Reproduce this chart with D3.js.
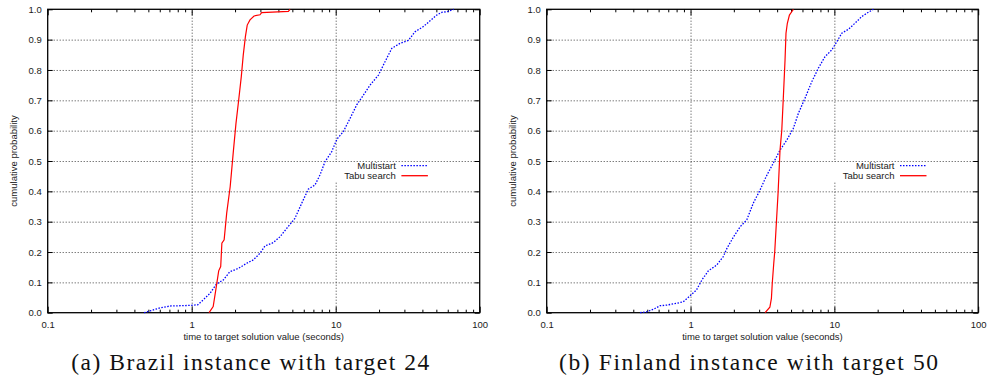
<!DOCTYPE html>
<html>
<head>
<meta charset="utf-8">
<script src="https://cdn.jsdelivr.net/npm/d3@7/dist/d3.min.js"></script>
<style>
  html, body { margin: 0; padding: 0; background: #fff; }
  svg { display: block; }
  .tick text { font-family: "Liberation Sans", Arial, sans-serif; font-size: 9.5px; fill: #1a1a1a; }
</style>
</head>
<body>
<svg id="chart" width="988" height="376"></svg>
<script>
// Time-to-target runs: [time in seconds, cumulative probability]
const brazilMultistart = [
  [0.467,0],[0.603,0.016],[0.707,0.022],[0.973,0.024],[1.1,0.026],[1.2,0.042],[1.34,0.064],
  [1.49,0.095],[1.66,0.108],[1.84,0.135],[2.11,0.146],[2.41,0.163],[2.68,0.174],[2.98,0.196],
  [3.23,0.22],[3.69,0.231],[4.1,0.25],[4.57,0.278],[5.21,0.311],[5.81,0.361],[6.45,0.407],
  [7.18,0.421],[7.78,0.454],[8.43,0.498],[9.38,0.531],[10.2,0.572],[11.3,0.597],[12.6,0.641],
  [14.0,0.685],[15.6,0.718],[17.3,0.75],[19.8,0.783],[22.0,0.827],[24.5,0.871],[28.0,0.888],
  [31.9,0.897],[35.6,0.926],[40.6,0.943],[45.2,0.962],[50.3,0.981],[54.5,0.99],[60.5,0.993],[66,1.0]
];
const brazilTabu = [
  [1.32,0],[1.41,0.02],[1.47,0.075],[1.54,0.138],[1.59,0.152],[1.62,0.229],[1.68,0.24],
  [1.75,0.328],[1.85,0.415],[1.95,0.536],[2.03,0.624],[2.12,0.701],[2.21,0.778],[2.28,0.849],
  [2.36,0.91],[2.43,0.948],[2.54,0.965],[2.71,0.978],[2.98,0.982],[3.06,0.989],[4.69,0.993],[4.82,1.0]
];
const finlandMultistart = [
  [0.446,0],[0.496,0.003],[0.551,0.011],[0.614,0.023],[0.683,0.025],[0.8,0.031],[0.89,0.036],
  [0.99,0.055],[1.1,0.075],[1.2,0.108],[1.33,0.138],[1.52,0.157],[1.69,0.185],[1.79,0.212],
  [1.99,0.25],[2.21,0.283],[2.46,0.306],[2.73,0.361],[3.04,0.404],[3.35,0.448],[3.77,0.494],
  [4.19,0.536],[4.67,0.569],[5.19,0.608],[5.62,0.657],[6.25,0.707],[6.96,0.761],[7.74,0.806],
  [8.61,0.844],[9.59,0.866],[10.4,0.893],[11.25,0.921],[12.5,0.934],[13.9,0.954],[15.5,0.976],
  [16.8,0.987],[18.7,1.0]
];
const finlandTabu = [
  [3.30,0],[3.56,0.018],[3.65,0.047],[3.70,0.097],[3.79,0.163],[3.85,0.201],[3.95,0.295],
  [4.06,0.394],[4.19,0.536],[4.31,0.602],[4.42,0.712],[4.54,0.833],[4.61,0.921],[4.71,0.954],
  [4.87,0.981],[5.05,0.992],[5.19,1.0]
];

const xTicks = [0.1, 1, 10, 100];
const xMinorTicks = [0.2,0.3,0.4,0.5,0.6,0.7,0.8,0.9,2,3,4,5,6,7,8,9,20,30,40,50,60,70,80,90];
const yTicks = [0,0.1,0.2,0.3,0.4,0.5,0.6,0.7,0.8,0.9,1.0];
const seriesNames = ["Multistart", "Tabu search"];
const captions = ["(a) Brazil instance with target 24", "(b) Finland instance with target 50"];

const svg = d3.select("#chart");
const FONT = '"Liberation Sans", Arial, sans-serif';
const plotTop = 9.3, plotBottom = 312.7;

function panel(left, right, ms, ts, caption, capCenter, capWidth) {
  const x = d3.scaleLog().domain([0.1, 100]).range([left, right]);
  const y = d3.scaleLinear().domain([0, 1]).range([plotBottom, plotTop]);
  const g = svg.append("g");
  const h = plotBottom - plotTop, w = right - left;

  // dotted grid at major ticks
  const gridX = g.append("g").attr("transform", `translate(0,${plotBottom})`)
    .call(d3.axisBottom(x).tickValues([1, 10]).tickSize(-h).tickFormat(""));
  const gridY = g.append("g").attr("transform", `translate(${left},0)`)
    .call(d3.axisLeft(y).tickValues(yTicks.slice(1, 10)).tickSize(-w).tickFormat(""));
  [gridX, gridY].forEach(a => {
    a.select(".domain").remove();
    a.selectAll("line").attr("stroke", "#222").attr("stroke-width", 1)
      .attr("stroke-dasharray", "1,2").attr("opacity", 0.85);
  });

  // axes with inward ticks
  const axB = g.append("g").attr("transform", `translate(0,${plotBottom})`)
    .call(d3.axisBottom(x).tickValues(xTicks).tickSize(-6).tickPadding(9).tickFormat(d3.format("")));
  const axBm = g.append("g").attr("transform", `translate(0,${plotBottom})`)
    .call(d3.axisBottom(x).tickValues(xMinorTicks).tickSize(-3).tickFormat(""));
  const axT = g.append("g").attr("transform", `translate(0,${plotTop})`)
    .call(d3.axisTop(x).tickValues(xTicks).tickSize(-6).tickFormat(""));
  const axTm = g.append("g").attr("transform", `translate(0,${plotTop})`)
    .call(d3.axisTop(x).tickValues(xMinorTicks).tickSize(-3).tickFormat(""));
  const axL = g.append("g").attr("transform", `translate(${left},0)`)
    .call(d3.axisLeft(y).tickValues(yTicks).tickSize(-5).tickPadding(6).tickFormat(d3.format(".1f")));
  const axR = g.append("g").attr("transform", `translate(${right},0)`)
    .call(d3.axisRight(y).tickValues(yTicks).tickSize(-5).tickFormat(""));
  [axB, axBm, axT, axTm, axL, axR].forEach(a => {
    a.select(".domain").remove();
    a.selectAll("line").attr("stroke", "#000").attr("stroke-width", 1);
  });

  // frame
  g.append("rect").attr("x", left).attr("y", plotTop).attr("width", w).attr("height", h)
    .attr("fill", "none").attr("stroke", "#000").attr("stroke-width", 1.3);

  // axis titles
  g.append("text").attr("x", (left + right) / 2).attr("y", 340)
    .attr("text-anchor", "middle").attr("font-family", FONT).attr("font-size", 9.5).attr("fill", "#1a1a1a")
    .text("time to target solution value (seconds)");
  g.append("text").attr("transform", `translate(${left - 31},${(plotTop + plotBottom) / 2}) rotate(-90)`)
    .attr("text-anchor", "middle").attr("font-family", FONT).attr("font-size", 9.5).attr("fill", "#1a1a1a")
    .text("cumulative probability");

  // key with opaque background
  const keyRight = left + 0.806 * w;
  g.append("rect").attr("x", keyRight - 67).attr("y", 162).attr("width", 104).attr("height", 19.5).attr("fill", "#fff");
  const keyRows = [
    { name: seriesNames[0], color: "#0000ff", dash: "1.5,1.5", yy: 165.7 },
    { name: seriesNames[1], color: "#ff0000", dash: null, yy: 175.7 }
  ];
  keyRows.forEach(k => {
    g.append("text").attr("x", keyRight).attr("y", k.yy).attr("dy", "0.35em")
      .attr("text-anchor", "end").attr("font-family", FONT).attr("font-size", 9.5).attr("fill", "#1a1a1a")
      .text(k.name);
    g.append("line").attr("x1", keyRight + 5.5).attr("x2", keyRight + 32).attr("y1", k.yy).attr("y2", k.yy)
      .attr("stroke", k.color).attr("stroke-width", 1.3).attr("stroke-dasharray", k.dash);
  });

  // curves
  const line = d3.line().x(d => x(d[0])).y(d => y(d[1]));
  g.append("path").datum(ms).attr("d", line).attr("fill", "none")
    .attr("stroke", "#0000ff").attr("stroke-width", 1.3).attr("stroke-dasharray", "1.5,1.5");
  g.append("path").datum(ts).attr("d", line).attr("fill", "none")
    .attr("stroke", "#ff0000").attr("stroke-width", 1.2);

  // caption
  g.append("text").attr("x", capCenter).attr("y", 370).attr("text-anchor", "middle")
    .attr("font-family", '"Liberation Serif", "Times New Roman", serif').attr("font-size", 23.5).attr("fill", "#111")
    .attr("textLength", capWidth).attr("lengthAdjust", "spacing")
    .text(caption);
}

panel(47.7, 479.7, brazilMultistart, brazilTabu, captions[0], 250.2, 358);
panel(546.7, 978.2, finlandMultistart, finlandTabu, captions[1], 748.5, 379);
</script>
</body>
</html>
